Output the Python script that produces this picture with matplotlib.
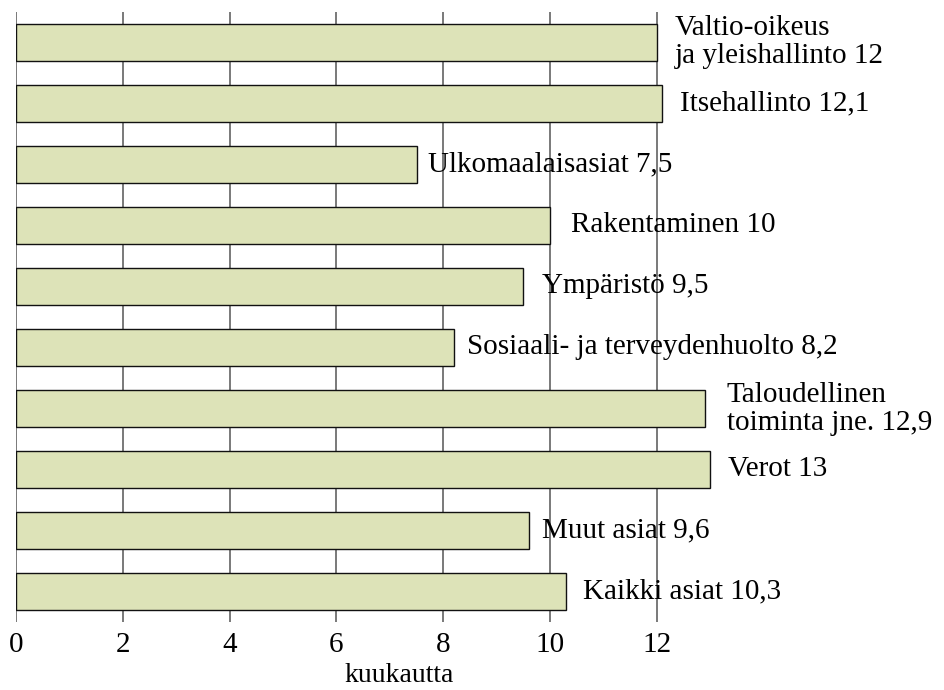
import matplotlib
matplotlib.use("Agg")
import matplotlib.pyplot as plt

categories = [
    "Valtio-oikeus\nja yleishallinto",
    "Itsehallinto",
    "Ulkomaalaisasiat",
    "Rakentaminen",
    "Ympäristö",
    "Sosiaali- ja terveydenhuolto",
    "Taloudellinen\ntoiminta jne.",
    "Verot",
    "Muut asiat",
    "Kaikki asiat",
]
values = [12, 12.1, 7.5, 10, 9.5, 8.2, 12.9, 13, 9.6, 10.3]
x_ticks = [0, 2, 4, 6, 8, 10, 12]
x_label = "kuukautta"

# label gap from bar end, in pixels (styling)
label_gaps_px = [18, 18, 12, 21, 19, 13, 22, 18, 13, 17]

plt.rcParams['font.family'] = ['Liberation Serif', 'DejaVu Serif']

fig = plt.figure(figsize=(9.45, 6.9), dpi=100)
W, H = 945, 690
ax = fig.add_axes([16 / W, 68 / H, 929 / W, 610 / H])

n = len(categories)
ypos = list(range(n))
ax.barh(ypos, values, height=0.62, color='#dde3b8', edgecolor='#111111',
        linewidth=1.0, zorder=2)

ax.set_ylim(n - 0.5, -0.5)
ax.set_xlim(0, 929 / 53.4)
ax.set_xticks(x_ticks)
ax.set_xticklabels([str(t) for t in x_ticks], fontsize=21)
ax.set_yticks([])
ax.tick_params(axis='x', length=0, pad=7)
ax.xaxis.grid(True, color='#555555', linewidth=1.1)
ax.set_axisbelow(True)
for s in ax.spines.values():
    s.set_visible(False)

def fmt(v):
    return f"{v:g}".replace('.', ',')

for y, cat, v, g in zip(ypos, categories, values, label_gaps_px):
    ax.annotate(f"{cat} {fmt(v)}", xy=(v, y), xytext=(g * 0.72, 0),
                textcoords='offset points', va='center', ha='left',
                fontsize=21, linespacing=1.1, zorder=3)

ax.set_xlabel(x_label, fontsize=20, labelpad=4)
ax.xaxis.label.set_x(0.413)

fig.savefig("out.png", dpi=100)
